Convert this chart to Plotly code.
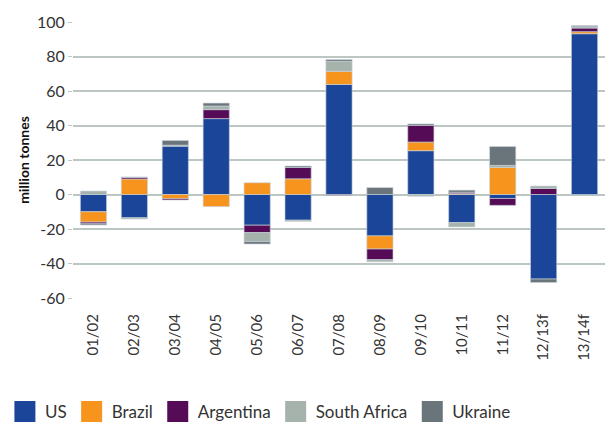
import plotly.graph_objects as go

categories = ["01/02", "02/03", "03/04", "04/05", "05/06", "06/07", "07/08",
              "08/09", "09/10", "10/11", "11/12", "12/13f", "13/14f"]
us = [-10, -13.5, 28, 44, -17.8, -14.9, 63.8, -24, 25.4, -16.3, -2.3, -49, 93.2]
brazil = [-6, 9, -2.5, -7, 6.8, 9.1, 7.6, -7.6, 5, 0.5, 15.7, 0, 1.2]
argentina = [-1, 1, -0.7, 5.2, -4.3, 6.6, -0.5, -6.2, 9.7, 0.8, -4, 3.5, 2.1]
south_africa = [2, -0.7, 0.6, 2.1, -5.2, -0.7, 5.8, -1.2, -1, -2.5, 1.2, 1.4, 0.8]
ukraine = [-0.7, 0, 2.7, 1.7, -1.4, 0.8, 1, 4, 0.8, 1.2, 10.9, -2, 0.6]

y_tickvals = [-60, -40, -20, 0, 20, 40, 60, 80, 100]
y_ticktext = ["-60", "-40", "-20", "0", "20", "40", "60", "80", "100"]

series = [
    ("US", us, "#1b4599"),
    ("Brazil", brazil, "#f7941e"),
    ("Argentina", argentina, "#560b56"),
    ("South Africa", south_africa, "#a6b3ad"),
    ("Ukraine", ukraine, "#6a747b"),
]

FONT = "Lato"
fig = go.Figure()
for name, vals, color in series:
    fig.add_trace(go.Bar(
        x=categories, y=vals, name=name, showlegend=False, legendgroup=name,
        marker=dict(color=color, line=dict(color="rgba(200,210,215,0.8)", width=0.8)),
    ))
# legend entries with large square swatches
for name, vals, color in series:
    fig.add_trace(go.Scatter(
        x=[None], y=[None], name=name, legendgroup=name, mode="markers",
        marker=dict(symbol="square", size=16, color=color, line=dict(color=color, width=5)),
    ))

fig.update_layout(
    barmode="relative",
    bargap=0.36,
    width=614, height=425,
    margin=dict(l=73, r=9, t=22, b=127, autoexpand=False),
    plot_bgcolor="white", paper_bgcolor="white",
    font=dict(family=FONT, size=15, color="#333333"),
    showlegend=True,
    legend=dict(
        orientation="h", xref="container", yref="container",
        x=0.008, xanchor="left", y=0.031, yanchor="middle",
        font=dict(family=FONT, size=17, color="#333333"),
        itemwidth=30, itemsizing="trace", tracegroupgap=0,
    ),
)
fig.update_xaxes(
    tickangle=-90, showgrid=False, showline=False, ticks="",
    tickfont=dict(family=FONT, size=15, color="#333333"),
    ticklabelstandoff=12, automargin=False,
)
fig.update_yaxes(
    range=[-60, 100], tickmode="array", tickvals=y_tickvals, ticktext=y_ticktext,
    showgrid=True, gridcolor="#bcc6c3", gridwidth=1.5,
    zeroline=True, zerolinecolor="#bcc6c3", zerolinewidth=1.5,
    ticks="outside", ticklen=4, tickcolor="#bcc6c3",
    tickfont=dict(family=FONT, size=16, color="#333333"),
    automargin=False,
    title=dict(text="<b>million tonnes</b>", font=dict(family=FONT, size=14, color="#111111"), standoff=4),
)

fig.write_html(
    "out.html",
    config={"displayModeBar": False},
    post_script="document.body.style.margin='0';document.body.style.overflow='hidden';",
)
